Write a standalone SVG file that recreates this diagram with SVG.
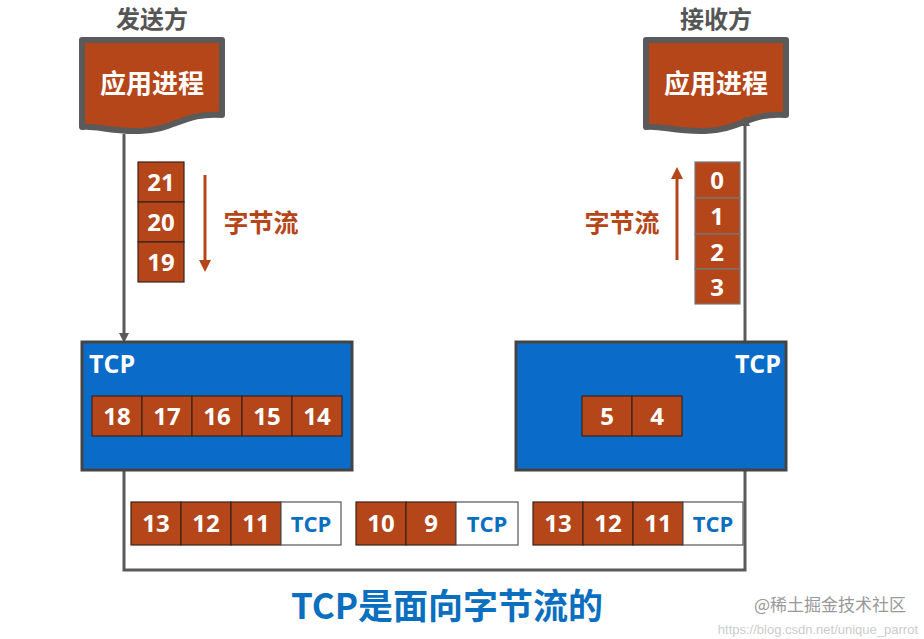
<svg xmlns="http://www.w3.org/2000/svg" width="924" height="639" viewBox="0 0 924 639">
<style>
.cell{fill:#b5461a;stroke:#3a2418;stroke-width:1.2}
.tc{fill:#fff;stroke:#555;stroke-width:1.2}
.n{font-family:"Open Sans","Noto Sans",sans-serif;font-weight:bold;font-size:24px;fill:#fff;text-anchor:middle}
.nb{font-family:"Open Sans","Noto Sans",sans-serif;font-weight:bold;font-size:22px;fill:#0b6fc0;text-anchor:middle}
.zh{font-family:"Noto Sans CJK SC",sans-serif;font-weight:bold}
.tcp{fill:#0a6cc8;stroke:#444;stroke-width:3}
.doc{fill:#b5461a;stroke:#5a5a5a;stroke-width:6;stroke-linejoin:round}
.line{fill:none;stroke:#5a5a5a;stroke-width:3}
</style>
<defs>
<marker id="ga" markerWidth="10" markerHeight="10" refX="5" refY="5" orient="auto" markerUnits="userSpaceOnUse" viewBox="0 0 10 10"><path d="M0,0 L10,5 L0,10 z" fill="#5a5a5a"/></marker>
<marker id="oa" markerWidth="12" markerHeight="12" refX="6" refY="6" orient="auto" markerUnits="userSpaceOnUse" viewBox="0 0 12 12"><path d="M0,0 L12,6 L0,12 z" fill="#b5461a"/></marker>
</defs>
<text class="zh" x="152" y="28" font-size="24" fill="#555" text-anchor="middle">发送方</text>
<text class="zh" x="716" y="28" font-size="24" fill="#555" text-anchor="middle">接收方</text>
<g id="sender-app">
<path class="doc" d="M82,40 H222 V115 C185,112 175,130 140,131 C110,132 95,125 82,127 Z"/>
<text class="zh" x="152" y="93" font-size="26" fill="#fff" text-anchor="middle">应用进程</text>
</g>
<g id="receiver-app">
<path class="doc" d="M646,40 H786 V115 C750,112 740,130 705,131 C675,132 660,125 646,127 Z"/>
<text class="zh" x="716" y="93" font-size="26" fill="#fff" text-anchor="middle">应用进程</text>
</g>
<g id="connectors">
<line class="line" x1="124" y1="134" x2="124" y2="338" marker-end="url(#ga)"/>
<polyline class="line" points="124,470 124,570 745,570 745,470"/>
<line class="line" x1="745" y1="342" x2="745" y2="121" marker-end="url(#ga)"/>
<line x1="205" y1="175" x2="205" y2="266" stroke="#b5461a" stroke-width="3" marker-end="url(#oa)"/>
<line x1="677" y1="260" x2="677" y2="173" stroke="#b5461a" stroke-width="3" marker-end="url(#oa)"/>
</g>
<g id="send-stream">
<rect class="cell" x="138" y="162" width="46" height="40"/><text class="n" x="161" y="191">21</text>
<rect class="cell" x="138" y="202" width="46" height="40"/><text class="n" x="161" y="231">20</text>
<rect class="cell" x="138" y="242" width="46" height="40"/><text class="n" x="161" y="271">19</text>
<text class="zh" x="261" y="232" font-size="25" fill="#b5461a" text-anchor="middle">字节流</text>
</g>
<g id="recv-stream">
<rect class="cell" x="695" y="162" width="45" height="36" style="stroke:#777"/><text class="n" x="717" y="189">0</text>
<rect class="cell" x="695" y="198" width="45" height="36" style="stroke:#777"/><text class="n" x="717" y="225">1</text>
<rect class="cell" x="695" y="234" width="45" height="35" style="stroke:#777"/><text class="n" x="717" y="261">2</text>
<rect class="cell" x="695" y="269" width="45" height="35" style="stroke:#777"/><text class="n" x="717" y="296">3</text>
<text class="zh" x="622" y="232" font-size="25" fill="#b5461a" text-anchor="middle">字节流</text>
</g>
<g id="sender-tcp">
<rect class="tcp" x="82" y="342" width="270" height="128"/>
<text x="89" y="373" font-family="Open Sans,Noto Sans,sans-serif" font-weight="bold" font-size="25" fill="#fff">TCP</text>
<rect class="cell" x="92" y="396" width="50" height="40"/><text class="n" x="117" y="425">18</text>
<rect class="cell" x="142" y="396" width="50" height="40"/><text class="n" x="167" y="425">17</text>
<rect class="cell" x="192" y="396" width="50" height="40"/><text class="n" x="217" y="425">16</text>
<rect class="cell" x="242" y="396" width="50" height="40"/><text class="n" x="267" y="425">15</text>
<rect class="cell" x="292" y="396" width="50" height="40"/><text class="n" x="317" y="425">14</text>
</g>
<g id="receiver-tcp">
<rect class="tcp" x="516" y="342" width="270" height="128"/>
<text x="781" y="373" font-family="Open Sans,Noto Sans,sans-serif" font-weight="bold" font-size="25" fill="#fff" text-anchor="end">TCP</text>
<rect class="cell" x="582" y="396" width="50" height="40"/><text class="n" x="607" y="425">5</text>
<rect class="cell" x="632" y="396" width="50" height="40"/><text class="n" x="657" y="425">4</text>
</g>
<g id="segment1">
<rect class="cell" x="131" y="502" width="50" height="43"/><text class="n" x="156" y="532">13</text>
<rect class="cell" x="181" y="502" width="50" height="43"/><text class="n" x="206" y="532">12</text>
<rect class="cell" x="231" y="502" width="50" height="43"/><text class="n" x="256" y="532">11</text>
<rect class="tc" x="281" y="502" width="60" height="43"/><text class="nb" x="311" y="532">TCP</text>
</g>
<g id="segment2">
<rect class="cell" x="356" y="502" width="50" height="43"/><text class="n" x="381" y="532">10</text>
<rect class="cell" x="406" y="502" width="50" height="43"/><text class="n" x="431" y="532">9</text>
<rect class="tc" x="456" y="502" width="62" height="43"/><text class="nb" x="487" y="532">TCP</text>
</g>
<g id="segment3">
<rect class="cell" x="533" y="502" width="50" height="43"/><text class="n" x="558" y="532">13</text>
<rect class="cell" x="583" y="502" width="50" height="43"/><text class="n" x="608" y="532">12</text>
<rect class="cell" x="633" y="502" width="50" height="43"/><text class="n" x="658" y="532">11</text>
<rect class="tc" x="683" y="502" width="60" height="43"/><text class="nb" x="713" y="532">TCP</text>
</g>
<text class="zh" x="447" y="619" font-size="35" fill="#0b6fc0" text-anchor="middle">TCP是面向字节流的</text>
<text x="906" y="611" font-family="Noto Sans CJK SC,sans-serif" font-size="17" fill="#999" text-anchor="end">@稀土掘金技术社区</text>
<text x="918" y="634" font-family="Liberation Sans,sans-serif" font-size="13" fill="#ccc" text-anchor="end">https://blog.csdn.net/unique_parrot</text>
</svg>
